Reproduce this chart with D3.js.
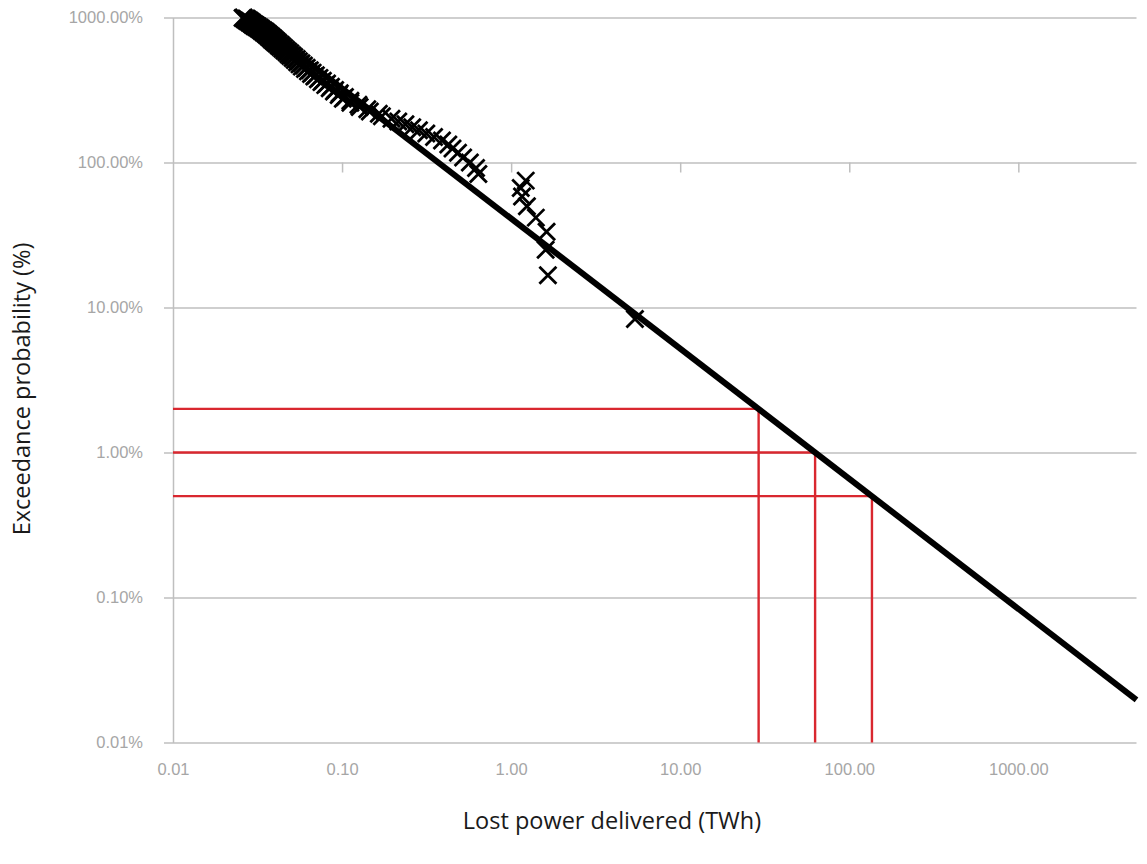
<!DOCTYPE html>
<html>
<head>
<meta charset="utf-8">
<script src="https://cdn.jsdelivr.net/npm/d3@7"></script>
<style>
  html, body { margin: 0; padding: 0; background: #fff; }
  svg { display: block; font-family: "Open Sans", "Noto Sans", sans-serif; }
</style>
</head>
<body>
<svg id="chart" width="1147" height="864"></svg>
<script>
// ---- data ----
// Lost power delivered per event (TWh), ranked from largest to smallest
const lostPowerTWh = [
  5.40, 1.65, 1.60, 1.62, 1.40, 1.24, 1.16, 1.14, 1.22, 0.64,
  0.62, 0.57, 0.52, 0.485, 0.45, 0.425, 0.39, 0.35, 0.315, 0.285,
  0.26, 0.237, 0.215, 0.196, 0.172, 0.165, 0.146, 0.141, 0.127, 0.125,
  0.112, 0.112, 0.101, 0.104, 0.0955, 0.0970, 0.0895, 0.0910, 0.0845, 0.0860,
  0.0795, 0.0815, 0.0755, 0.0770, 0.0720, 0.0735, 0.0685, 0.0700, 0.0655, 0.0670,
  0.0628, 0.0645, 0.0603, 0.0618, 0.0578, 0.0595, 0.0560, 0.0575, 0.0542, 0.0556,
  0.0525, 0.0540, 0.0510, 0.0522, 0.0494, 0.0508, 0.0481, 0.0494, 0.0468, 0.0480,
  0.0455, 0.0467, 0.0443, 0.0455, 0.0431, 0.0443, 0.0421, 0.0433, 0.0410, 0.0421,
  0.0400, 0.0412, 0.0391, 0.0403, 0.0382, 0.0394, 0.0374, 0.0385, 0.0366, 0.0376,
  0.0358, 0.0368, 0.0350, 0.0360, 0.0342, 0.0352, 0.0334, 0.0343, 0.0326, 0.0334,
  0.0318, 0.0327, 0.0310, 0.0318, 0.0302, 0.0310, 0.0295, 0.0303, 0.0289, 0.0296,
  0.0283, 0.0290, 0.0276, 0.0284, 0.0270, 0.0278, 0.0264, 0.0272, 0.0258, 0.0262
];
// Exceedance probability (fraction: 1 = 100%)
const exceedance = [
  0.0833, 0.1667, 0.25, 0.3333, 0.4167, 0.5, 0.5833, 0.6667, 0.75, 0.8333,
  0.9167, 1.0, 1.0833, 1.1667, 1.25, 1.3333, 1.4167, 1.5, 1.5833, 1.6667,
  1.75, 1.8333, 1.9167, 2.0, 2.0833, 2.1667, 2.25, 2.3333, 2.4167, 2.5,
  2.5833, 2.6667, 2.75, 2.8333, 2.9167, 3.0, 3.0833, 3.1667, 3.25, 3.3333,
  3.4167, 3.5, 3.5833, 3.6667, 3.75, 3.8333, 3.9167, 4.0, 4.0833, 4.1667,
  4.25, 4.3333, 4.4167, 4.5, 4.5833, 4.6667, 4.75, 4.8333, 4.9167, 5.0,
  5.0833, 5.1667, 5.25, 5.3333, 5.4167, 5.5, 5.5833, 5.6667, 5.75, 5.8333,
  5.9167, 6.0, 6.0833, 6.1667, 6.25, 6.3333, 6.4167, 6.5, 6.5833, 6.6667,
  6.75, 6.8333, 6.9167, 7.0, 7.0833, 7.1667, 7.25, 7.3333, 7.4167, 7.5,
  7.5833, 7.6667, 7.75, 7.8333, 7.9167, 8.0, 8.0833, 8.1667, 8.25, 8.3333,
  8.4167, 8.5, 8.5833, 8.6667, 8.75, 8.8333, 8.9167, 9.0, 9.0833, 9.1667,
  9.25, 9.3333, 9.4167, 9.5, 9.5833, 9.6667, 9.75, 9.8333, 9.9167, 10.0
];
// Power-law trend line: endpoints (TWh, exceedance fraction)
const trendX = [0.0285, 5000];
const trendY = [10.0, 0.000197];
// Return-level markers (exceedance fraction -> TWh)
const markerProb = [0.02, 0.01, 0.005];
const markerTWh = [29.1, 62.8, 136.2];
// Axis ticks
const xTickValues = [0.01, 0.1, 1, 10, 100, 1000];
const xTickLabels = ["0.01", "0.10", "1.00", "10.00", "100.00", "1000.00"];
const yTickValues = [10, 1, 0.1, 0.01, 0.001, 0.0001];
const yTickLabels = ["1000.00%", "100.00%", "10.00%", "1.00%", "0.10%", "0.01%"];
const xTitle = "Lost power delivered (TWh)";
const yTitle = "Exceedance probability (%)";

// ---- layout ----
const svg = d3.select("#chart");
const plotL = 173, plotR = 1136.5, plotT = 17.5, plotB = 742.5;
const gridColor = "#bfbfbf";
const labelColor = "#a6a6a6";

const x = d3.scaleLog().domain([0.01, 5000]).range([plotL, plotR]);
const y = d3.scaleLog().domain([10, 0.0001]).range([plotT, plotB]);

// horizontal gridlines (with outward ticks to the left)
const grid = svg.append("g")
  .attr("transform", `translate(${plotL - 9},0)`)
  .call(d3.axisRight(y).tickValues(yTickValues).tickSize(plotR - plotL + 9).tickFormat(""));
grid.select(".domain").remove();
grid.selectAll(".tick line").attr("stroke", gridColor).attr("stroke-width", 1.5);

// y axis line + labels
const yAxis = svg.append("g")
  .attr("transform", `translate(${plotL},0)`)
  .call(d3.axisLeft(y).tickValues(yTickValues).tickSize(0).tickPadding(30)
    .tickFormat((d, i) => yTickLabels[i]));
yAxis.select(".domain").attr("stroke", gridColor).attr("stroke-width", 1.5);
yAxis.selectAll("text").attr("fill", labelColor).style("font-size", "16.5px");

// x axis line crossing at 100% with downward ticks
const xCross = svg.append("g")
  .attr("transform", `translate(0,${y(1)})`)
  .call(d3.axisBottom(x).tickValues(xTickValues.slice(1)).tickSize(10).tickFormat(""));
xCross.select(".domain").remove();
xCross.selectAll(".tick line").attr("stroke", gridColor).attr("stroke-width", 1.5);

// x labels at the bottom
const xLabels = svg.append("g")
  .attr("transform", `translate(0,${plotB})`)
  .call(d3.axisBottom(x).tickValues(xTickValues).tickSize(0).tickPadding(21)
    .tickFormat((d, i) => xTickLabels[i]));
xLabels.select(".domain").remove();
xLabels.selectAll("text").attr("fill", labelColor).style("font-size", "16.5px");

// red return-level lines
const red = "#d9272f";
const rl = svg.append("g");
markerProb.forEach((p, i) => {
  rl.append("line")
    .attr("x1", x(0.01)).attr("x2", x(markerTWh[i]))
    .attr("y1", y(p)).attr("y2", y(p))
    .attr("stroke", red).attr("stroke-width", 2.4);
  rl.append("line")
    .attr("x1", x(markerTWh[i])).attr("x2", x(markerTWh[i]))
    .attr("y1", y(p)).attr("y2", y(0.0001))
    .attr("stroke", red).attr("stroke-width", 2.4);
});

// trend line
const trendData = trendX.map((d, i) => [d, trendY[i]]);
svg.append("path")
  .datum(trendData)
  .attr("d", d3.line().x(d => x(d[0])).y(d => y(d[1])))
  .attr("fill", "none").attr("stroke", "#000").attr("stroke-width", 6);

// points
const pts = lostPowerTWh.map((d, i) => [d, exceedance[i]]);
const s = 8.5;
svg.append("g").selectAll("path")
  .data(pts).join("path")
  .attr("transform", d => `translate(${x(d[0])},${y(d[1])})`)
  .attr("d", `M${-s},${-s}L${s},${s}M${-s},${s}L${s},${-s}`)
  .attr("stroke", "#000").attr("stroke-width", 2.8).attr("fill", "none");

// axis titles
svg.append("text")
  .attr("x", 612).attr("y", 829)
  .attr("text-anchor", "middle")
  .style("font-size", "23.5px").attr("fill", "#1a1a1a")
  .text(xTitle);
svg.append("text")
  .attr("transform", `translate(30,389) rotate(-90)`)
  .attr("text-anchor", "middle")
  .style("font-size", "23.5px").attr("fill", "#1a1a1a")
  .text(yTitle);
</script>
</body>
</html>
